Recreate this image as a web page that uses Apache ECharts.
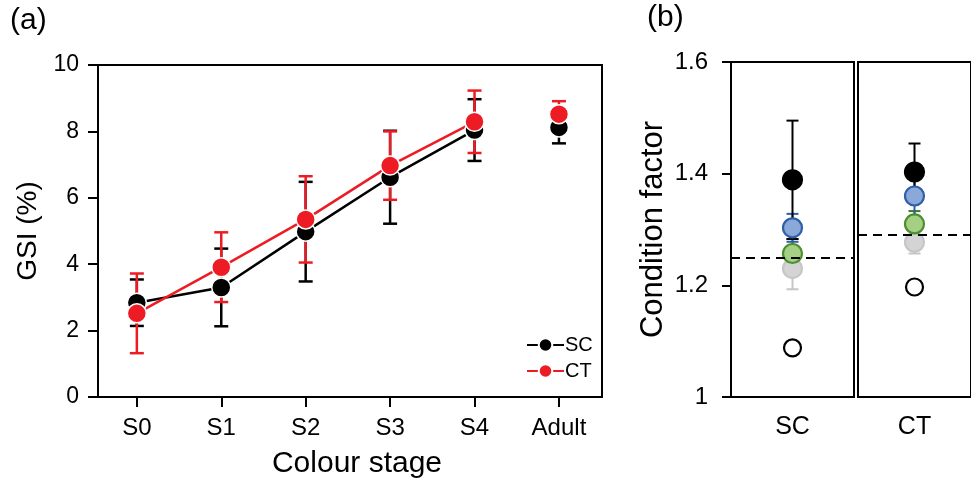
<!doctype html>
<html lang="en">
<head>
    <meta charset="utf-8">
    <title>GSI and condition factor</title>
    <script src="https://cdn.jsdelivr.net/npm/echarts@6/dist/echarts.min.js"></script>
</head>
<body style="margin:0;">
<div id="chart" style="width:971px;height:485px;"></div>
<script>

// panel (a): GSI by colour stage
var stages = ['S0', 'S1', 'S2', 'S3', 'S4', 'Adult'];
var scMean = [2.84, 3.30, 4.98, 6.62, 8.04, 8.12];
var scErr  = [0.70, 1.17, 1.50, 1.40, 0.93, 0.48];
var ctMean = [2.52, 3.91, 5.35, 6.97, 8.29, 8.52];
var ctErr  = [1.20, 1.05, 1.30, 1.03, 0.94, 0.39];
var gsiTicks = [0, 2, 4, 6, 8, 10];

// panel (b): condition factor, one point per group
var groups = ['black', 'blue', 'green', 'grey', 'open'];
var cfScMean = [1.389, 1.303, 1.257, 1.230, 1.088];
var cfScErr  = [0.106, 0.025, 0.026, 0.037, 0];
var cfCtMean = [1.403, 1.360, 1.310, 1.277, 1.197];
var cfCtErr  = [0.051, 0.037, 0.023, 0.020, 0];
var cfScLine = 1.248;
var cfCtLine = 1.290;

var FONT = 'Liberation Sans';
var RED = '#ed1c24';
var groupFill   = {black: '#000000', blue: '#8aa8d8', green: '#a6cf86', grey: '#d4d4d4', open: '#ffffff'};
var groupBorder = {black: '#000000', blue: '#2e5fa8', green: '#4b8f2e', grey: '#c6c6c6', open: '#000000'};
var groupErr    = {black: '#000000', blue: '#2e5fa8', green: '#3d7a25', grey: '#c6c6c6', open: '#000000'};

function errRender(color, capW, lw) {
    return function (params, api) {
        var x = api.value(0);
        var lo = api.coord([x, api.value(1)]);
        var hi = api.coord([x, api.value(2)]);
        var st = {stroke: color, lineWidth: lw};
        return {type: 'group', children: [
            {type: 'line', shape: {x1: lo[0], y1: lo[1], x2: hi[0], y2: hi[1]}, style: st},
            {type: 'line', shape: {x1: lo[0] - capW / 2, y1: lo[1], x2: lo[0] + capW / 2, y2: lo[1]}, style: st},
            {type: 'line', shape: {x1: hi[0] - capW / 2, y1: hi[1], x2: hi[0] + capW / 2, y2: hi[1]}, style: st}
        ]};
    };
}

function errData(mean, err) {
    return mean.map(function (m, i) { return [i, m - err[i], m + err[i]]; });
}

var series = [];

// panel (a)
[['SC', scMean, scErr, '#000'], ['CT', ctMean, ctErr, RED]].forEach(function (s) {
    var pts = s[1].map(function (v, i) { return [i, v]; });
    series.push({
        type: 'custom', name: s[0] + ' err', xAxisIndex: 0, yAxisIndex: 0,
        renderItem: errRender(s[3], 14, 2.5), data: errData(s[1], s[2]), z: 2
    });
    series.push({
        type: 'line', name: s[0], xAxisIndex: 0, yAxisIndex: 0,
        data: pts.slice(0, 5), symbol: 'circle', symbolSize: 19,
        lineStyle: {color: s[3], width: 2.5},
        itemStyle: {color: s[3], borderColor: '#fff', borderWidth: 1.5}, z: 3
    });
    series.push({
        type: 'scatter', name: s[0] + ' adult', xAxisIndex: 0, yAxisIndex: 0,
        data: pts.slice(5), symbol: 'circle', symbolSize: 19,
        itemStyle: {color: s[3], borderColor: '#fff', borderWidth: 1.5, opacity: 1}, z: 3
    });
});

// panel (b)
[[cfScMean, cfScErr, cfScLine, 1], [cfCtMean, cfCtErr, cfCtLine, 2]].forEach(function (s) {
    var ax = s[3];
    var order = [4, 3, 2, 1, 0];
    order.forEach(function (g) {
        var name = groups[g];
        if (s[1][g] > 0) {
            series.push({
                type: 'custom', name: 'err ' + name, xAxisIndex: ax, yAxisIndex: ax,
                renderItem: errRender(groupErr[name], 12, 2),
                data: [[0, s[0][g] - s[1][g], s[0][g] + s[1][g]]], z: 2
            });
        }
    });
    series.push({
        type: 'line', name: 'ref' + ax, xAxisIndex: ax, yAxisIndex: ax, data: [],
        markLine: {
            silent: true, symbol: 'none', label: {show: false},
            lineStyle: {color: '#000', type: [9, 6], width: 2},
            data: [{yAxis: s[2]}]
        }
    });
    order.forEach(function (g) {
        var name = groups[g];
        series.push({
            type: 'scatter', name: name + ax, xAxisIndex: ax, yAxisIndex: ax,
            data: [[0, s[0][g]]], symbol: 'circle', symbolSize: name === 'open' ? 17 : 19,
            itemStyle: {color: groupFill[name], borderColor: groupBorder[name], borderWidth: 2.2, opacity: 1}, z: 4
        });
    });
});

var chart = echarts.init(document.getElementById('chart'));
chart.setOption({
    animation: false,
    textStyle: {fontFamily: FONT},
    grid: [
        {left: 98, top: 65, width: 504, height: 332, show: true, borderColor: '#000', borderWidth: 2},
        {left: 731, top: 62, width: 123, height: 335, show: true, borderColor: '#000', borderWidth: 2},
        {left: 858, top: 62, width: 123, height: 335, show: true, borderColor: '#000', borderWidth: 2}
    ],
    xAxis: [
        {
            gridIndex: 0, type: 'value', min: -0.46, max: 5.51,
            name: 'Colour stage', nameLocation: 'middle', nameGap: 52,
            nameTextStyle: {fontSize: 30, color: '#000', padding: [0, 0, 0, 14]},
            axisLine: {onZero: false, lineStyle: {color: '#000', width: 2}},
            axisTick: {customValues: [0, 1, 2, 3, 4, 5], length: 10, lineStyle: {color: '#000', width: 2}},
            axisLabel: {customValues: [0, 1, 2, 3, 4, 5], margin: 19, fontSize: 24, color: '#000',
                formatter: function (v) { return stages[Math.round(v)]; }},
            splitLine: {show: false}
        },
        {
            gridIndex: 1, type: 'category', data: ['SC'], boundaryGap: true,
            axisLine: {onZero: false, lineStyle: {color: '#000', width: 2}},
            axisTick: {alignWithLabel: true, length: 11, lineStyle: {color: '#000', width: 2}},
            axisLabel: {margin: 18, fontSize: 25, color: '#000'}
        },
        {
            gridIndex: 2, type: 'category', data: ['CT'], boundaryGap: true,
            axisLine: {onZero: false, lineStyle: {color: '#000', width: 2}},
            axisTick: {alignWithLabel: true, length: 11, lineStyle: {color: '#000', width: 2}},
            axisLabel: {margin: 18, fontSize: 25, color: '#000'}
        }
    ],
    yAxis: [
        {
            gridIndex: 0, type: 'value', min: gsiTicks[0], max: gsiTicks[gsiTicks.length - 1], interval: 2,
            name: 'GSI (%)', nameLocation: 'middle', nameGap: 54, nameRotate: 90,
            nameTextStyle: {fontSize: 28, color: '#000'},
            axisLine: {show: true, onZero: false, lineStyle: {color: '#000', width: 2}},
            axisTick: {show: true, length: 10, lineStyle: {color: '#000', width: 2}},
            axisLabel: {margin: 19, fontSize: 23, color: '#000'},
            splitLine: {show: false}
        },
        {
            gridIndex: 1, type: 'value', min: 1, max: 1.6, interval: 0.2,
            name: 'Condition factor', nameLocation: 'middle', nameGap: 62, nameRotate: 90,
            nameTextStyle: {fontSize: 31, color: '#000'},
            axisLine: {show: true, onZero: false, lineStyle: {color: '#000', width: 2}},
            axisTick: {show: true, length: 9, lineStyle: {color: '#000', width: 2}},
            axisLabel: {margin: 23, fontSize: 24, color: '#000'},
            splitLine: {show: false}
        },
        {
            gridIndex: 2, type: 'value', min: 1, max: 1.6, interval: 0.2,
            axisLine: {show: false}, axisTick: {show: false}, axisLabel: {show: false},
            splitLine: {show: false}
        }
    ],
    legend: {
        data: ['SC', 'CT'], orient: 'vertical', left: 521, top: 330,
        itemWidth: 37, itemHeight: 17, itemGap: 6,
        textStyle: {fontSize: 20, color: '#000', padding: [0, 0, 0, -4]}
    },
    graphic: [
        {type: 'text', left: 10, top: 6, style: {text: '(a)', fontSize: 30, fontFamily: FONT, fill: '#000'}},
        {type: 'text', left: 647, top: 3, style: {text: '(b)', fontSize: 30, fontFamily: FONT, fill: '#000'}}
    ],
    series: series
});
</script>
</body>
</html>
